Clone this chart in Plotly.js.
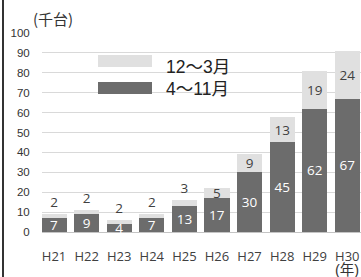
<!DOCTYPE html>
<html>
<head>
<meta charset="utf-8">
<script src="https://cdn.plot.ly/plotly-3.0.1.min.js"></script>
<style>
html,body{margin:0;padding:0;background:#fff;}
#wrap{position:relative;width:361px;height:277px;}
#chart{width:361px;height:277px;}
#border{position:absolute;left:2px;top:0;width:1.5px;height:277px;background:#333;}
</style>
</head>
<body>
<div id="wrap"><div id="chart"></div><div id="border"></div></div>
<script>
const categories = ['H21','H22','H23','H24','H25','H26','H27','H28','H29','H30'];
const lowerName = '4～11月';
const upperName = '12～3月';
const lowerValues = [7, 9, 4, 7, 13, 17, 30, 45, 62, 67];
const upperValues = [2, 2, 2, 2, 3, 5, 9, 13, 19, 24];
const yTicks = [0,10,20,30,40,50,60,70,80,90,100];
const yUnit = '(千台)';
const xUnit = '(年)';

const W = 361, H = 277, L = 42, R = 0, T = 33, B = 45;
const pw = W - L - R, ph = H - T - B;
const px = x => (x - L) / pw;
const py = y => (H - B - y) / ph;

const lightColor = '#e0e0e0';
const darkColor = '#6c6c6c';
const dataFont = {family: 'Open Sans, Noto Sans CJK JP', size: 13.5};

const upperPos = upperValues.map((v, i) => i < 5 ? 'outside' : 'inside');

const traces = [
  {
    type: 'bar', x: categories, y: lowerValues, name: lowerName,
    marker: {color: darkColor, line: {width: 0}},
    text: lowerValues.map(String), textposition: 'inside', insidetextanchor: 'middle',
    textangle: 0, constraintext: 'none',
    textfont: Object.assign({color: '#ffffff'}, dataFont),
    insidetextfont: Object.assign({color: '#ffffff'}, dataFont),
    hoverinfo: 'none', showlegend: false, cliponaxis: false
  },
  {
    type: 'bar', x: categories, y: upperValues, name: upperName,
    marker: {color: lightColor, line: {width: 0}},
    text: upperValues.map(String), textposition: upperPos, insidetextanchor: 'middle',
    textangle: 0, constraintext: 'none',
    textfont: Object.assign({color: '#404040'}, dataFont),
    insidetextfont: Object.assign({color: '#404040'}, dataFont),
    outsidetextfont: Object.assign({color: '#404040'}, dataFont),
    hoverinfo: 'none', showlegend: false, cliponaxis: false
  }
];

const layout = {
  width: W, height: H,
  margin: {l: L, r: R, t: T, b: B, pad: 0},
  paper_bgcolor: '#ffffff', plot_bgcolor: '#ffffff',
  font: {family: 'Liberation Sans, Noto Sans CJK JP', color: '#333333'},
  barmode: 'stack', bargap: 0.23,
  showlegend: false,
  xaxis: {
    type: 'category', range: [-0.37, 9.42], showgrid: false, showline: false, zeroline: false,
    ticks: 'outside', ticklen: 12, tickcolor: 'rgba(0,0,0,0)',
    tickfont: {family: 'Open Sans, Noto Sans CJK JP', size: 13, color: '#404040'},
    fixedrange: true
  },
  yaxis: {
    range: [0, 100], tickvals: yTicks, ticktext: yTicks.map(String),
    showgrid: true, gridcolor: '#d9d9d9', gridwidth: 1,
    zeroline: true, zerolinecolor: '#c4c4c4', zerolinewidth: 1,
    showline: false, ticks: 'outside', ticklen: 9, tickcolor: 'rgba(0,0,0,0)',
    tickfont: {family: 'Liberation Sans', size: 11.5, color: '#333333'},
    fixedrange: true
  },
  shapes: [
    {type: 'rect', xref: 'paper', yref: 'paper', x0: px(98), x1: px(152), y0: py(67), y1: py(55), fillcolor: lightColor, line: {width: 0}},
    {type: 'rect', xref: 'paper', yref: 'paper', x0: px(98), x1: px(152), y0: py(94), y1: py(82), fillcolor: darkColor, line: {width: 0}}
  ],
  annotations: [
    {xref: 'paper', yref: 'paper', x: px(164), y: py(66.5), xanchor: 'left', yanchor: 'middle', showarrow: false,
     text: upperName, font: {family: 'Liberation Sans, Noto Sans CJK JP', size: 17.5, color: '#222222'}},
    {xref: 'paper', yref: 'paper', x: px(164), y: py(88.5), xanchor: 'left', yanchor: 'middle', showarrow: false,
     text: lowerName, font: {family: 'Liberation Sans, Noto Sans CJK JP', size: 17.5, color: '#222222'}},
    {xref: 'paper', yref: 'paper', x: px(31), y: py(18), xanchor: 'left', yanchor: 'middle', showarrow: false,
     text: yUnit, font: {family: 'Noto Sans CJK JP', size: 15, color: '#333333'}},
    {xref: 'paper', yref: 'paper', x: px(333), y: py(270), xanchor: 'left', yanchor: 'middle', showarrow: false,
     text: xUnit, font: {family: 'Liberation Sans, Noto Sans CJK JP', size: 14.5, color: '#333333'}}
  ]
};

Plotly.newPlot('chart', traces, layout, {staticPlot: true, displayModeBar: false});
</script>
</body>
</html>
